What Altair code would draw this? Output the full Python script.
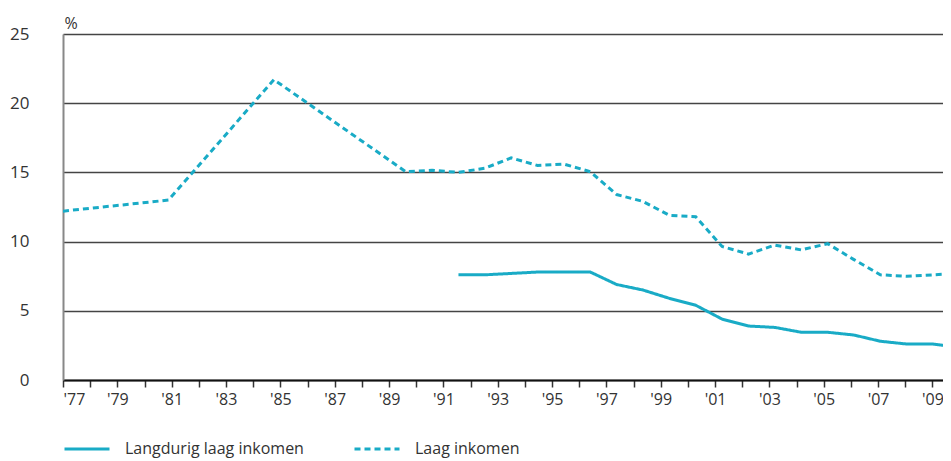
import altair as alt
import pandas as pd

# ---- data ----
low_years = [1977, 1981, 1985, 1990, 1991, 1992, 1993, 1994, 1995, 1996, 1997, 1998,
             1999, 2000, 2001, 2002, 2003, 2004, 2005, 2006, 2007, 2008, 2009, 2010, 2011]
low_values = [12.2, 13.0, 21.7, 15.05, 15.15, 15.0, 15.3, 16.05, 15.5, 15.6, 15.05, 13.4,
              12.9, 11.9, 11.8, 9.65, 9.1, 9.75, 9.4, 9.85, 8.7, 7.6, 7.5, 7.6, 7.7]

long_years = [1992, 1993, 1994, 1995, 1996, 1997, 1998, 1999, 2000, 2001, 2002, 2003,
              2004, 2005, 2006, 2007, 2008, 2009, 2010, 2011]
long_values = [7.6, 7.6, 7.7, 7.8, 7.8, 7.8, 6.9, 6.5, 5.9, 5.4, 4.4, 3.9,
               3.8, 3.45, 3.45, 3.25, 2.8, 2.6, 2.6, 2.35]

series_names = ["Langdurig laag inkomen", "Laag inkomen"]
tick_years = list(range(1977, 2011))
y_ticks = [0, 5, 10, 15, 20, 25]

TEAL = "#19abc6"
FONT = "Open Sans"
W, H = 880, 346

df = pd.concat([
    pd.DataFrame({"jaar": long_years, "pct": long_values, "reeks": series_names[0]}),
    pd.DataFrame({"jaar": low_years, "pct": low_values, "reeks": series_names[1]}),
])
ticks_df = pd.DataFrame({"jaar": tick_years})

lines = alt.Chart(df).mark_line(strokeWidth=3, clip=True).encode(
    x=alt.X("jaar:Q", axis=None,
            scale=alt.Scale(domain=[1977, 1977 + W / 26.364], nice=False, zero=False)),
    y=alt.Y("pct:Q",
            scale=alt.Scale(domain=[0, 25], nice=False),
            axis=alt.Axis(values=y_ticks, grid=True, gridColor="#444", gridWidth=1.5,
                          ticks=False, domainColor="#888", domainWidth=2,
                          labelPadding=34, labelFontSize=17, labelColor="#333",
                          labelFont=FONT, title="%", titleAngle=0, titleAlign="left",
                          titleBaseline="alphabetic", titleX=1, titleY=-6,
                          titleFontSize=16, titleFontWeight="normal",
                          titleFont=FONT, titleColor="#333")),
    color=alt.Color("reeks:N",
                    scale=alt.Scale(domain=series_names, range=[TEAL, TEAL]),
                    legend=alt.Legend(title=None, orient="none", direction="horizontal",
                                      legendX=0, legendY=391, symbolType="stroke",
                                      symbolSize=2025, symbolStrokeWidth=3,
                                      labelOffset=14, columnPadding=44, padding=0,
                                      labelFontSize=16, labelFont=FONT,
                                      labelColor="#333", labelLimit=400)),
    strokeDash=alt.StrokeDash("reeks:N",
                              scale=alt.Scale(domain=series_names, range=[[1, 0], [6, 4]]),
                              legend=None),
)

axis_layer = alt.Chart(ticks_df).mark_point(opacity=0).encode(
    x=alt.X("jaar:Q",
            scale=alt.Scale(domain=[1977, 1977 + W / 27.17], nice=False, zero=False),
            axis=alt.Axis(orient="bottom", values=tick_years, title=None,
                          labelExpr="datum.value % 2 == 1 ? \"'\" + substring('' + datum.value, 2, 4) : ''",
                          tickSize=7, tickColor="#333", tickWidth=1.5,
                          domainColor="#111", domainWidth=2,
                          labelPadding=4, labelFontSize=16, labelColor="#333",
                          labelFont=FONT, labelOverlap=False, grid=False)),
)

chart = alt.layer(lines, axis_layer).resolve_scale(x="independent").properties(
    width=W, height=H,
    autosize=alt.AutoSizeParams(type="none"),
    padding={"left": 55, "top": 26, "right": 0, "bottom": 81},
).configure_view(stroke=None).configure(background="white")

chart.save("out.html", embed_options={"renderer": "svg", "actions": False})
